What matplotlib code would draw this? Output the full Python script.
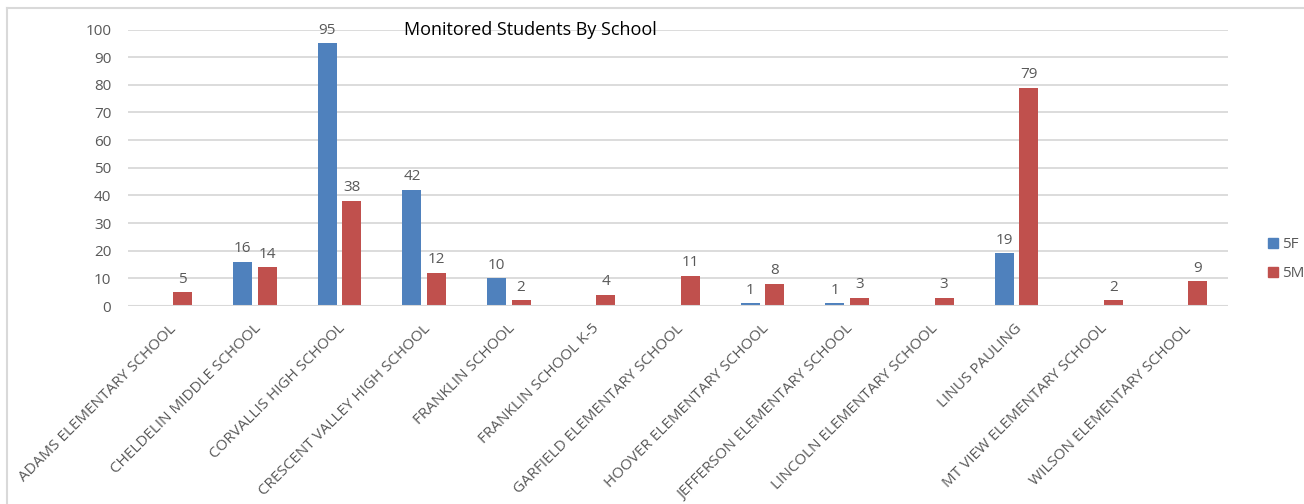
import matplotlib
matplotlib.use("Agg")
import matplotlib.pyplot as plt
from matplotlib.lines import Line2D
import numpy as np

schools = ["ADAMS ELEMENTARY SCHOOL", "CHELDELIN MIDDLE SCHOOL", "CORVALLIS HIGH SCHOOL",
           "CRESCENT VALLEY HIGH SCHOOL", "FRANKLIN SCHOOL", "FRANKLIN SCHOOL K-5",
           "GARFIELD ELEMENTARY SCHOOL", "HOOVER ELEMENTARY SCHOOL", "JEFFERSON ELEMENTARY SCHOOL",
           "LINCOLN ELEMENTARY SCHOOL", "LINUS PAULING", "MT VIEW ELEMENTARY SCHOOL",
           "WILSON ELEMENTARY SCHOOL"]
f5 = [0, 16, 95, 42, 10, 0, 0, 1, 1, 0, 19, 0, 0]
m5 = [5, 14, 38, 12, 2, 4, 11, 8, 3, 3, 79, 2, 9]
yticks = [0, 10, 20, 30, 40, 50, 60, 70, 80, 90, 100]

plt.rcParams['font.family'] = ['Open Sans', 'DejaVu Sans']
W, H = 1304, 504
fig = plt.figure(figsize=(W/100, H/100), dpi=100)
ax = fig.add_axes([128/W, (H-306)/H, 1100/W, (306-29.5)/H])

gray = "#595959"
grid = "#d9d9d9"
blue = "#4F81BD"
red = "#C0504D"
x = np.arange(len(schools))
bw = 0.225
off = 0.145
b1 = ax.bar(x - off, f5, bw, color=blue, zorder=3)
b2 = ax.bar(x + off, m5, bw, color=red, zorder=3)
for bars, vals in ((b1, f5), (b2, m5)):
    for r, v in zip(bars, vals):
        if v:
            ax.annotate(str(v), (r.get_x() + r.get_width()/2, v), xytext=(0, 4),
                        textcoords="offset points", ha="center", va="bottom",
                        fontsize=11, color=gray)

ax.set_xlim(-0.5, len(schools) - 0.5)
ax.set_ylim(0, 100)
ax.set_yticks(yticks)
ax.set_yticklabels([str(t) for t in yticks])
ax.yaxis.grid(True, color=grid, linewidth=1.3, zorder=0)
ax.set_axisbelow(True)
for s in ax.spines.values():
    s.set_visible(False)
ax.axhline(0, color=grid, linewidth=1.5, zorder=4)
ax.tick_params(axis='y', length=0, pad=12, labelsize=11, labelcolor=gray)
ax.set_xticks(x - 0.02)
ax.set_xticklabels(schools, rotation=45, ha="right", rotation_mode="anchor",
                   fontsize=11, color=gray)
ax.tick_params(axis='x', length=0, pad=11)

fig.text(530/W, 1 - 30/H, "Monitored Students By School", ha="center", va="center",
         fontsize=13, color="black")

handles = [Line2D([], [], marker='s', linestyle='none', color=blue, markersize=7),
           Line2D([], [], marker='s', linestyle='none', color=red, markersize=7)]
fig.legend(handles, ["5F", "5M"], loc="center left", bbox_to_anchor=(1252/W, 1 - 259/H),
           frameon=False, fontsize=11, labelcolor=gray, handletextpad=0.1,
           labelspacing=0.9, handlelength=1.0)

# figure border (left and top)
fig.add_artist(Line2D([7/W, 7/W], [0, 1 - 8/H], color="#d9d9d9", linewidth=1.5))
fig.add_artist(Line2D([7/W, 1], [1 - 8/H, 1 - 8/H], color="#d9d9d9", linewidth=1.5))

fig.savefig("out.png", dpi=100, facecolor="white")
